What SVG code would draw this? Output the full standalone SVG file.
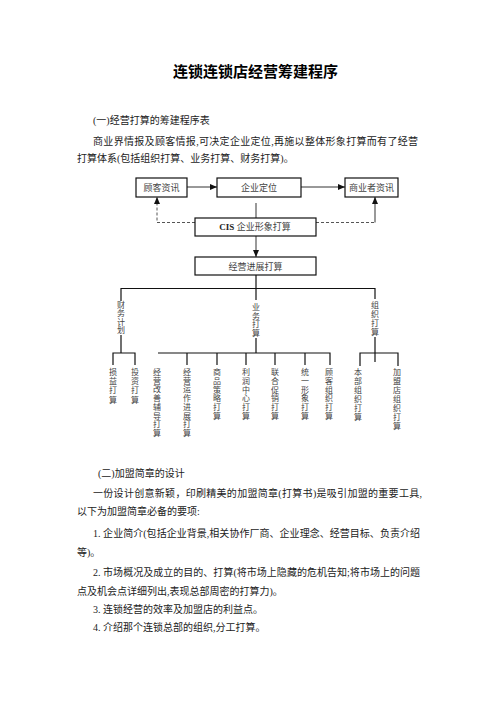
<svg xmlns="http://www.w3.org/2000/svg" width="496" height="702" viewBox="0 0 496 702">
<style>
.t{font-family:"Liberation Serif","Noto Sans CJK SC",serif;font-size:10px;fill:#222}
.title{font-family:"Liberation Sans","Noto Sans CJK SC",sans-serif;font-size:15px;font-weight:bold;fill:#000}
.bx{fill:#fff;stroke:#111;stroke-width:1.2}
.bt{font-family:"Liberation Serif","Noto Sans CJK SC",serif;font-size:9px;fill:#444;text-anchor:middle}
.vt{font-family:"Liberation Serif","Noto Sans CJK SC",serif;font-size:8px;fill:#444;text-anchor:middle}
.ln{stroke:#111;stroke-width:1.2;fill:none}
.ar{stroke:#333;stroke-width:1;fill:none}
.gr{stroke:#777;stroke-width:1.5;fill:none}
.ds{stroke:#555;stroke-width:1;fill:none;stroke-dasharray:3,2}
</style>
<defs>
<marker id="ah" markerUnits="userSpaceOnUse" markerWidth="7" markerHeight="6" refX="7" refY="3" orient="auto">
<path d="M0,0 L7,3 L0,6 z" fill="#111"/>
</marker>
</defs>
<rect width="496" height="702" fill="#fff"/>
<text class="title" x="173" y="76.5" textLength="165" lengthAdjust="spacingAndGlyphs">连锁连锁店经营筹建程序</text>
<g id="intro">
<text class="t" x="93" y="124">(一)经营打算的筹建程序表</text>
<text class="t" x="93" y="144.5" textLength="325" lengthAdjust="spacing">商业界情报及顾客情报,可决定企业定位,再施以整体形象打算而有了经营</text>
<text class="t" x="77" y="161.5">打算体系(包括组织打算、业务打算、财务打算)。</text>
</g>
<g id="connectors">
<line class="ar" x1="187" y1="187" x2="217" y2="187" marker-end="url(#ah)"/>
<line class="ar" x1="301" y1="187" x2="345" y2="187" marker-end="url(#ah)"/>
<line class="gr" x1="256" y1="203" x2="256" y2="218"/>
<line class="gr" x1="256" y1="236" x2="256" y2="257" marker-end="url(#ah)"/>
<path class="ds" d="M195,222.5 H157 V197" marker-end="url(#ah)"/>
<path class="ds" d="M316,222.5 H375"/>
<line class="gr" x1="375" y1="222.5" x2="375" y2="197" marker-end="url(#ah)"/>
<line class="ln" x1="256" y1="275" x2="256" y2="288.5"/>
<line class="ln" x1="121" y1="288.5" x2="375" y2="288.5"/>
<line class="ln" x1="121" y1="288" x2="121" y2="301"/>
<line class="ln" x1="121" y1="335" x2="121" y2="353"/>
<line class="ln" x1="256" y1="288" x2="256" y2="300"/>
<line class="ln" x1="256" y1="338" x2="256" y2="353"/>
<line class="ln" x1="375" y1="288" x2="375" y2="299"/>
<line class="ln" x1="375" y1="337" x2="375" y2="362"/>
<path class="ln" d="M113,365 V353 H135 V365"/>
<path class="ln" d="M158,353 H330 V365"/>
<line class="ln" x1="187" y1="353" x2="187" y2="365"/>
<line class="ln" x1="217" y1="353" x2="217" y2="365"/>
<line class="ln" x1="246" y1="353" x2="246" y2="365"/>
<line class="ln" x1="275" y1="353" x2="275" y2="365"/>
<line class="ln" x1="305" y1="353" x2="305" y2="365"/>
<path class="ln" d="M360,366 V353 H398 V366"/>
</g>
<g id="n-guke"><rect class="bx" x="136" y="178" width="51" height="19"/><text class="bt" x="161.5" y="190.5">顾客资讯</text></g>
<g id="n-qiye"><rect class="bx" x="217" y="178" width="84" height="19"/><text class="bt" x="259" y="190.5">企业定位</text></g>
<g id="n-shangye"><rect class="bx" x="345" y="178" width="53" height="19"/><text class="bt" x="371.5" y="190.5">商业者资讯</text></g>
<g id="n-cis"><rect class="bx" x="195" y="218" width="121" height="18"/><text class="bt" x="255" y="230"><tspan font-weight="bold" fill="#222">CIS</tspan> 企业形象打算</text></g>
<g id="n-jingying"><rect class="bx" x="195" y="257" width="121" height="18"/><text class="bt" x="255.5" y="269.5">经营进展打算</text></g>
<g id="n-caiwu"><text class="vt" font-size="6.5" x="121" y="307.5"><tspan x="121">财</tspan><tspan x="121" dy="8.5">务</tspan><tspan x="121" dy="8.5">计</tspan><tspan x="121" dy="8.5">划</tspan></text></g>
<g id="n-yewu"><text class="vt" x="256" y="310"><tspan x="256">业</tspan><tspan x="256" dy="8.7">务</tspan><tspan x="256" dy="8.7">打</tspan><tspan x="256" dy="8.7">算</tspan></text></g>
<g id="n-zuzhi"><text class="vt" x="375" y="308"><tspan x="375">组</tspan><tspan x="375" dy="8.7">织</tspan><tspan x="375" dy="9.5">打</tspan><tspan x="375" dy="8.7">算</tspan></text></g>
<g id="n-sunyi"><text class="vt" x="113" y="375"><tspan x="113">损</tspan><tspan x="113" dy="9.2">益</tspan><tspan x="113" dy="9.2">打</tspan><tspan x="113" dy="9.2">算</tspan></text></g>
<g id="n-touzi"><text class="vt" x="135" y="375"><tspan x="135">投</tspan><tspan x="135" dy="9.2">资</tspan><tspan x="135" dy="9.2">打</tspan><tspan x="135" dy="9.2">算</tspan></text></g>
<g id="n-gaishan"><text class="vt" x="157" y="375"><tspan x="157">经</tspan><tspan x="157" dy="8.7">营</tspan><tspan x="157" dy="8.7">改</tspan><tspan x="157" dy="8.7">善</tspan><tspan x="157" dy="8.7">辅</tspan><tspan x="157" dy="8.7">导</tspan><tspan x="157" dy="8.7">打</tspan><tspan x="157" dy="8.7">算</tspan></text></g>
<g id="n-yunzuo"><text class="vt" x="187" y="375"><tspan x="187">经</tspan><tspan x="187" dy="8.7">营</tspan><tspan x="187" dy="8.7">运</tspan><tspan x="187" dy="8.7">作</tspan><tspan x="187" dy="8.7">进</tspan><tspan x="187" dy="8.7">展</tspan><tspan x="187" dy="8.7">打</tspan><tspan x="187" dy="8.7">算</tspan></text></g>
<g id="n-shangpin"><text class="vt" x="217" y="375"><tspan x="217">商</tspan><tspan x="217" dy="8.8">品</tspan><tspan x="217" dy="8.8">策</tspan><tspan x="217" dy="8.8">略</tspan><tspan x="217" dy="8.8">打</tspan><tspan x="217" dy="8.8">算</tspan></text></g>
<g id="n-lirun"><text class="vt" x="246" y="375"><tspan x="246">利</tspan><tspan x="246" dy="8.8">润</tspan><tspan x="246" dy="8.8">中</tspan><tspan x="246" dy="8.8">心</tspan><tspan x="246" dy="8.8">打</tspan><tspan x="246" dy="8.8">算</tspan></text></g>
<g id="n-lianhe"><text class="vt" x="275" y="375"><tspan x="275">联</tspan><tspan x="275" dy="8.8">合</tspan><tspan x="275" dy="8.8">促</tspan><tspan x="275" dy="8.8">销</tspan><tspan x="275" dy="8.8">打</tspan><tspan x="275" dy="8.8">算</tspan></text></g>
<g id="n-tongyi"><text class="vt" x="305" y="375"><tspan x="305">统</tspan><tspan x="305" dy="8.8">一</tspan><tspan x="305" dy="8.8">形</tspan><tspan x="305" dy="8.8">象</tspan><tspan x="305" dy="8.8">打</tspan><tspan x="305" dy="8.8">算</tspan></text></g>
<g id="n-guke2"><text class="vt" x="329" y="375"><tspan x="329">顾</tspan><tspan x="329" dy="8.8">客</tspan><tspan x="329" dy="8.8">组</tspan><tspan x="329" dy="8.8">织</tspan><tspan x="329" dy="8.8">打</tspan><tspan x="329" dy="8.8">算</tspan></text></g>
<g id="n-benbu"><text class="vt" x="358" y="375"><tspan x="358">本</tspan><tspan x="358" dy="9">部</tspan><tspan x="358" dy="9">组</tspan><tspan x="358" dy="9">织</tspan><tspan x="358" dy="9">打</tspan><tspan x="358" dy="9">算</tspan></text></g>
<g id="n-jiameng"><text class="vt" x="397" y="375"><tspan x="397">加</tspan><tspan x="397" dy="9">盟</tspan><tspan x="397" dy="9">店</tspan><tspan x="397" dy="9">组</tspan><tspan x="397" dy="9">织</tspan><tspan x="397" dy="9">打</tspan><tspan x="397" dy="9">算</tspan></text></g>
<g id="body2">
<text class="t" x="98" y="477">(二)加盟简章的设计</text>
<text class="t" x="93" y="497" textLength="329" lengthAdjust="spacing">一份设计创意新颖，印刷精美的加盟简章(打算书)是吸引加盟的重要工具,</text>
<text class="t" x="77" y="515">以下为加盟简章必备的要项:</text>
<text class="t" x="93" y="537" textLength="327" lengthAdjust="spacing">1. 企业简介(包括企业背景,相关协作厂商、企业理念、经营目标、负责介绍</text>
<text class="t" x="77" y="556">等)。</text>
<text class="t" x="93" y="576" textLength="327" lengthAdjust="spacing">2. 市场概况及成立的目的、打算(将市场上隐藏的危机告知;将市场上的问题</text>
<text class="t" x="77" y="595">点及机会点详细列出,表现总部周密的打算力)。</text>
<text class="t" x="93" y="613">3. 连锁经营的效率及加盟店的利益点。</text>
<text class="t" x="93" y="631">4. 介绍那个连锁总部的组织,分工打算。</text>
</g>
</svg>
